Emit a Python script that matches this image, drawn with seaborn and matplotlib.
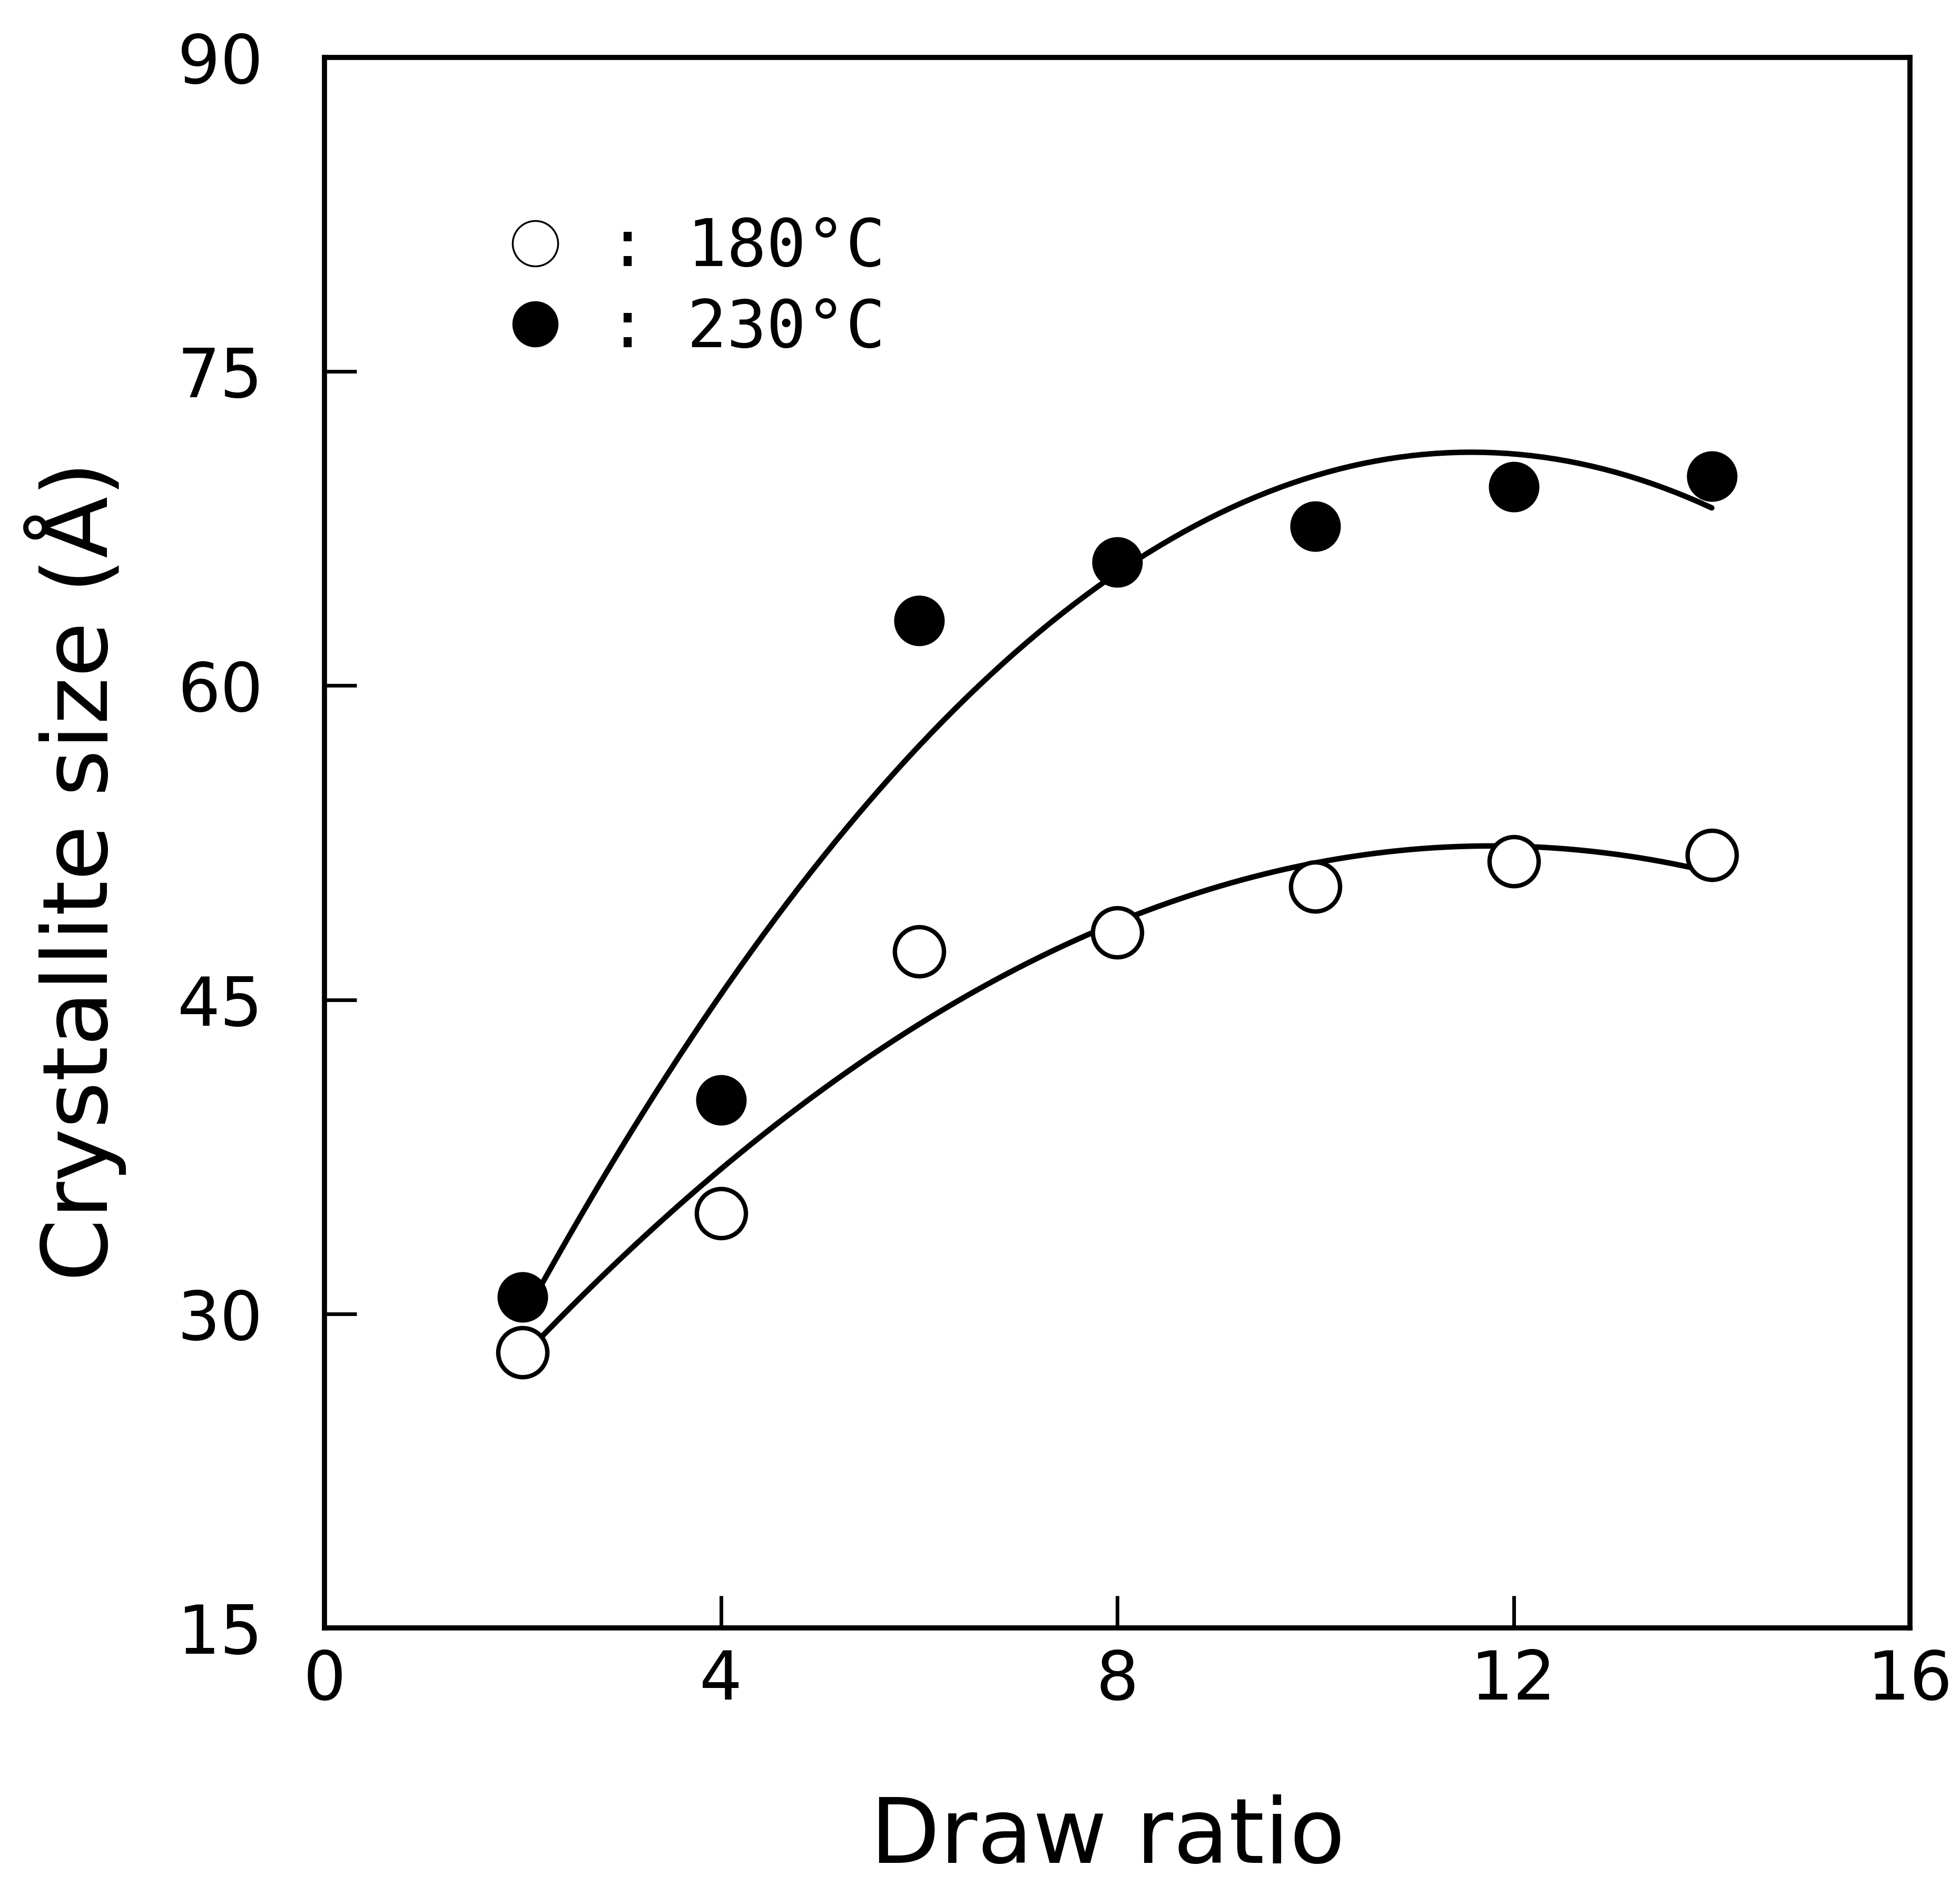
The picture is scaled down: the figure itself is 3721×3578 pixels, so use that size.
import numpy as np
import pandas as pd
import matplotlib
matplotlib.use("Agg")
import matplotlib.pyplot as plt
from matplotlib.lines import Line2D
import seaborn as sns

# ---- data ----
draw_ratio = [2, 4, 6, 8, 10, 12, 14]
size_180 = [28.15, 34.8, 47.3, 48.2, 50.4, 51.6, 51.9]
size_230 = [30.8, 40.2, 63.1, 65.9, 67.6, 69.5, 70.0]
labels = [": 180°C", ": 230°C"]
x_ticks = [0, 4, 8, 12, 16]
y_ticks = [15, 30, 45, 60, 75, 90]

sns.set_theme(style="ticks")
plt.rcParams['font.family'] = ['DejaVu Sans']
plt.rcParams.update({"text.color": "black", "axes.labelcolor": "black",
                     "xtick.color": "black", "ytick.color": "black",
                     "axes.edgecolor": "black"})

fig = plt.figure(figsize=(37.21, 35.78), dpi=100)
L, R, B, T = 616 / 3721, 3626 / 3721, 1 - 3090 / 3578, 1 - 109 / 3578
ax = fig.add_axes([L, B, R - L, T - B])

df180 = pd.DataFrame({"x": draw_ratio, "y": size_180})
df230 = pd.DataFrame({"x": draw_ratio, "y": size_230})

lw = 7.5
# quadratic fit curves
sns.regplot(data=df230, x="x", y="y", order=2, ci=None, scatter=False, ax=ax,
            line_kws=dict(color="black", lw=lw), truncate=True)
sns.regplot(data=df180, x="x", y="y", order=2, ci=None, scatter=False, ax=ax,
            line_kws=dict(color="black", lw=lw), truncate=True)

ms = 4500
sns.scatterplot(data=df230, x="x", y="y", ax=ax, s=ms, color="black",
                edgecolor="black", linewidth=2, zorder=5)
sns.scatterplot(data=df180, x="x", y="y", ax=ax, s=ms, facecolor="white",
                edgecolor="black", linewidth=6, zorder=5)

ax.set_xlim(0, 16)
ax.set_ylim(15, 90)
ax.set_xticks(x_ticks)
ax.set_yticks(y_ticks)
ax.set_xticklabels([str(v) for v in x_ticks])
ax.set_yticklabels([str(v) for v in y_ticks])
ax.tick_params(axis="both", direction="in", length=44, width=5, colors="black",
               labelsize=92)
ax.tick_params(axis="y", pad=84)
ax.tick_params(axis="x", pad=27)
for s in ax.spines.values():
    s.set_visible(True)
    s.set_linewidth(7)
    s.set_color("black")

ax.set_xlabel("Draw ratio", fontsize=124)
ax.set_ylabel("Crystallite size (Å)", fontsize=123)
ax.xaxis.set_label_coords(0.494, -0.106)
ax.yaxis.set_label_coords(-0.125, 0.482)

handles = [
    Line2D([], [], marker="o", linestyle="none", markersize=62,
           markerfacecolor="white", markeredgecolor="black", markeredgewidth=2.5),
    Line2D([], [], marker="o", linestyle="none", markersize=62,
           markerfacecolor="black", markeredgecolor="black"),
]
leg = ax.legend(handles, labels, loc="upper left",
                bbox_to_anchor=(0.079, 0.937), frameon=False,
                handlelength=0.8, handletextpad=0.7,
                labelspacing=0.25, prop={"family": "DejaVu Sans Mono", "size": 90})

fig.savefig("out.png", dpi=100, facecolor="white")
